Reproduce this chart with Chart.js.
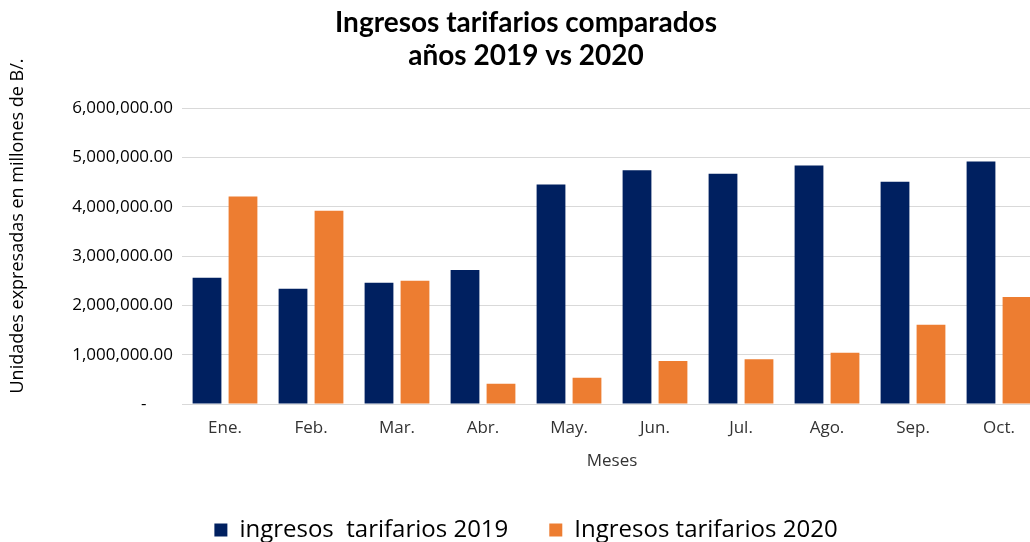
<!DOCTYPE html>
<html>
<head>
<meta charset="utf-8">
<script src="https://cdn.jsdelivr.net/npm/chart.js@4.4.1/dist/chart.umd.min.js"></script>
<style>
  html, body { margin: 0; padding: 0; background: #fff; overflow: hidden; }
  #wrap { width: 1044px; height: 542px; position: relative; }
</style>
</head>
<body>
<div id="wrap"><canvas id="myChart"></canvas></div>
<script>
// meses y valores (B/.)
var meses = ["Ene.", "Feb.", "Mar.", "Abr.", "May.", "Jun.", "Jul.", "Ago.", "Sep.", "Oct."];
var ingresos2019 = [2560000, 2340000, 2460000, 2720000, 4450000, 4740000, 4670000, 4840000, 4510000, 4920000];
var ingresos2020 = [4210000, 3920000, 2500000, 410000, 530000, 870000, 910000, 1040000, 1610000, 2170000];
var tituloY = "Unidades expresadas en millones de B/.";

// titulo del eje Y dibujado a mano (centrado como en el original)
var yTitlePlugin = {
  id: "yTitle",
  afterDraw: function (chart) {
    var c = chart.ctx;
    c.save();
    c.translate(18, 226);
    c.rotate(-Math.PI / 2);
    c.textAlign = "center";
    c.textBaseline = "middle";
    c.fillStyle = "#000";
    c.font = "18px 'Open Sans'";
    c.fillText(tituloY, 0, 0);
    c.restore();
  }
};

var ctx = document.getElementById("myChart").getContext("2d");
var myChart = new Chart(ctx, {
  type: "bar",
  data: {
    labels: meses,
    datasets: [{
      label: "ingresos  tarifarios 2019",
      data: ingresos2019,
      backgroundColor: "#002060",
      categoryPercentage: 0.837,
      barPercentage: 0.8
    }, {
      label: "Ingresos tarifarios 2020",
      data: ingresos2020,
      backgroundColor: "#ED7D31",
      categoryPercentage: 0.837,
      barPercentage: 0.8
    }]
  },
  plugins: [yTitlePlugin],
  options: {
    responsive: true,
    maintainAspectRatio: false,
    animation: false,
    layout: { padding: { left: 10, right: 2, top: 0, bottom: -10 } },
    plugins: {
      title: {
        display: true,
        text: ["Ingresos tarifarios comparados", "años 2019 vs 2020"],
        color: "#000",
        font: { family: "Lato, sans-serif", size: 28, weight: "bold", lineHeight: 1.2 },
        padding: { top: 6, bottom: 35 }
      },
      legend: {
        position: "bottom",
        labels: {
          color: "#000",
          font: { family: "'Open Sans'", size: 24 },
          boxWidth: 13,
          boxHeight: 13,
          padding: 41
        }
      },
      tooltip: { enabled: false }
    },
    scales: {
      x: {
        afterFit: function (scale) { scale.height = 73; },
        grid: { display: false, drawTicks: false },
        border: { display: true, color: "#d9d9d9" },
        ticks: { color: "#333", font: { family: "'Open Sans'", size: 17 }, padding: 14 },
        title: {
          display: true,
          text: "Meses",
          color: "#333",
          font: { family: "'Open Sans'", size: 17 },
          padding: { top: 12, bottom: 6 }
        }
      },
      y: {
        min: 0,
        max: 6000000,
        afterFit: function (scale) { scale.width = 172; },
        grid: { color: "#d9d9d9", drawTicks: false },
        border: { display: false },
        ticks: {
          stepSize: 1000000,
          padding: 9,
          color: "#000",
          font: { family: "'Open Sans'", size: 17 },
          callback: function (v) {
            if (v === 0) return "-      ";
            return v.toLocaleString("en-US", { minimumFractionDigits: 2, maximumFractionDigits: 2 });
          }
        }
      }
    }
  }
});
</script>
</body>
</html>
